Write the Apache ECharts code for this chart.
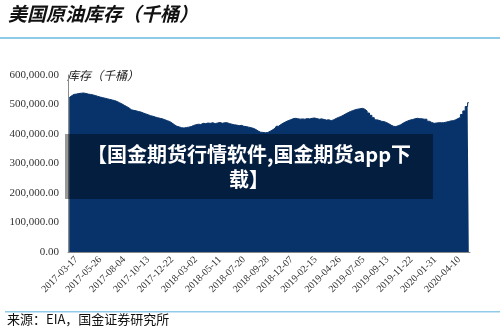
<!DOCTYPE html>
<html>
<head>
<meta charset="utf-8">
<script src="https://cdn.jsdelivr.net/npm/echarts@6/dist/echarts.min.js"></script>
<style>
  html, body { margin: 0; padding: 0; background: #fff; }
  #chart { width: 500px; height: 333px; }
</style>
</head>
<body>
<div id="chart"></div>
<script>
// weekly dates, MM-DD per year
const weeks2017 = ['02-24','03-03','03-10','03-17','03-24','03-31','04-07','04-14','04-21','04-28','05-05','05-12','05-19','05-26','06-02','06-09','06-16','06-23','06-30','07-07','07-14','07-21','07-28','08-04','08-11','08-18','08-25','09-01','09-08','09-15','09-22','09-29','10-06','10-13','10-20','10-27','11-03','11-10','11-17','11-24','12-01','12-08','12-15','12-22','12-29']
const weeks2018 = ['01-05','01-12','01-19','01-26','02-02','02-09','02-16','02-23','03-02','03-09','03-16','03-23','03-30','04-06','04-13','04-20','04-27','05-04','05-11','05-18','05-25','06-01','06-08','06-15','06-22','06-29','07-06','07-13','07-20','07-27','08-03','08-10','08-17','08-24','08-31','09-07','09-14','09-21','09-28','10-05','10-12','10-19','10-26','11-02','11-09','11-16','11-23','11-30','12-07','12-14','12-21','12-28']
const weeks2019 = ['01-04','01-11','01-18','01-25','02-01','02-08','02-15','02-22','03-01','03-08','03-15','03-22','03-29','04-05','04-12','04-19','04-26','05-03','05-10','05-17','05-24','05-31','06-07','06-14','06-21','06-28','07-05','07-12','07-19','07-26','08-02','08-09','08-16','08-23','08-30','09-06','09-13','09-20','09-27','10-04','10-11','10-18','10-25','11-01','11-08','11-15','11-22','11-29','12-06','12-13','12-20','12-27']
const weeks2020 = ['01-03','01-10','01-17','01-24','01-31','02-07','02-14','02-21','02-28','03-06','03-13','03-20','03-27','04-03','04-10','04-17','04-24','05-01','05-08']

// 库存（千桶）
const stocks = [
  523100, 529400, 534200, 535300, 537100, 538200, 539000, 537400, 535200, 534100,
  532300, 530200, 527400, 525100, 523300, 521200, 519100, 517300, 515200, 513400,
  510100, 506300, 502200, 497400, 493100, 488300, 482200, 480100, 478400, 476200,
  474300, 471100, 468200, 465300, 462100, 460200, 457400, 455100, 453200, 451300,
  448100, 445200, 442300, 437100, 431400, 426200, 424100, 421300, 420200, 422100,
  423300, 425200, 429100, 431300, 433200, 432100, 436300, 435200, 437100, 436200,
  438300, 435100, 437200, 439100, 436300, 438200, 438100, 435300, 433200, 431100,
  430200, 428100, 429300, 426200, 425100, 423300, 421200, 419100, 415300, 410200,
  406100, 405300, 404200, 405100, 409300, 414200, 419100, 426300, 432200, 437100,
  441300, 445200, 448100, 451300, 453200, 452100, 450300, 451200, 450100, 452300,
  451200, 453100, 454300, 452200, 450100, 451300, 449200, 447100, 448300, 445200,
  448100, 452300, 456200, 459100, 463300, 468200, 472100, 476300, 479200, 482100,
  484300, 485200, 487100, 484300, 478200, 471100, 463300, 455200, 448100, 446300,
  443200, 442100, 439300, 435200, 430100, 426300, 425200, 428100, 431300, 436200,
  441100, 444300, 447200, 449100, 451300, 453200, 452100, 451300, 450200, 450100,
  443300, 439200, 436100, 437300, 438200, 438100, 438300, 440200, 442100, 444300,
  445200, 448100, 452300, 456200, 466100, 478300, 493200, 506100
]

const yTicks = [0, 100000, 200000, 300000, 400000, 500000, 600000]

const dates = [].concat(
  weeks2017.map(d => '2017-' + d),
  weeks2018.map(d => '2018-' + d),
  weeks2019.map(d => '2019-' + d),
  weeks2020.map(d => '2020-' + d)
)

const chart = echarts.init(document.getElementById('chart'))

chart.setOption({
  animation: false,
  grid: {
    left: 68,
    right: 30,
    top: 75,
    bottom: 81,
  },
  xAxis: {
    type: 'category',
    data: dates,
    boundaryGap: true,
    axisLine: { lineStyle: { color: '#8a8a8a' } },
    axisTick: {
      interval: 0,
      length: 3,
      lineStyle: { color: '#8a8a8a' },
    },
    axisLabel: {
      interval: (i) => (i - 3) % 10 === 0,
      rotate: 45,
      margin: 6,
      fontSize: 10,
      fontFamily: 'Liberation Serif',
      color: '#333',
    },
  },
  yAxis: {
    type: 'value',
    min: yTicks[0],
    max: yTicks[yTicks.length - 1],
    interval: 100000,
    name: '库存（千桶）',
    nameLocation: 'end',
    nameGap: 0,
    nameTextStyle: {
      align: 'left',
      verticalAlign: 'middle',
      fontSize: 12,
      fontStyle: 'italic',
      fontFamily: 'Noto Sans CJK SC',
      color: '#222',
      padding: [0, 0, 0, -1],
    },
    axisLine: { show: true, lineStyle: { color: '#8a8a8a' } },
    axisTick: { show: false },
    splitLine: { show: false },
    axisLabel: {
      margin: 9,
      fontSize: 11,
      fontFamily: 'Liberation Serif',
      color: '#333',
      formatter: (v) => v.toLocaleString('en-US', { minimumFractionDigits: 2, maximumFractionDigits: 2 }),
    },
  },
  series: [
    {
      type: 'line',
      step: 'middle',
      symbol: 'none',
      lineStyle: { color: '#07336a', width: 1 },
      areaStyle: { color: '#07336a', opacity: 1 },
      data: stocks,
    },
  ],
  graphic: [
    {
      type: 'text',
      left: 8,
      top: 4,
      style: {
        text: '美国原油库存（千桶）',
        font: 'italic bold 19px "Noto Sans CJK SC"',
        fill: '#111',
      },
    },
    {
      type: 'rect',
      shape: { x: 0, y: 37, width: 500, height: 2 },
      style: { fill: '#8fcbe6' },
    },
    {
      type: 'rect',
      shape: { x: 5, y: 311, width: 495, height: 1.5 },
      style: { fill: '#8fcbe6' },
    },
    {
      type: 'text',
      left: 7,
      top: 313,
      style: {
        text: '来源：EIA，国金证券研究所',
        font: '13px "Noto Sans CJK SC"',
        fill: '#111',
      },
    },
    {
      type: 'rect',
      shape: { x: 65, y: 134, width: 368, height: 65 },
      style: { fill: 'rgba(0,0,0,0.4)' },
      z: 100,
    },
    {
      type: 'text',
      x: 249,
      y: 142,
      z: 101,
      style: {
        text: '【国金期货行情软件,国金期货app下\n载】',
        font: 'bold 20px "Noto Sans CJK SC"',
        fill: '#fff',
        align: 'center',
        lineHeight: 25,
      },
    },
  ],
})

window.addEventListener('resize', () => {
  chart.resize()
})
</script>
</body>
</html>
